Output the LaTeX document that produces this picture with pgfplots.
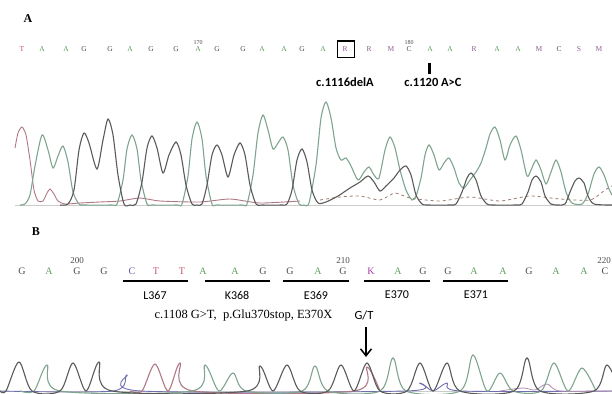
\documentclass[border=0pt]{standalone}
\usepackage{pgfplots}
\pgfplotsset{compat=1.18}
\usepackage{fontspec}
\setmainfont{Liberation Serif}
\newfontfamily\carlito{Carlito}
\usetikzlibrary{arrows.meta}
\definecolor{sqA}{HTML}{5E9E5E}
\definecolor{sqG}{HTML}{4A4A4A}
\definecolor{sqT}{HTML}{C05068}
\definecolor{sqC}{HTML}{5A5AA0}
\definecolor{sqR}{HTML}{8E5E8E}
\definecolor{sqK}{HTML}{A040A0}
\definecolor{trG}{HTML}{7FA58E}
\definecolor{trK}{HTML}{5A5A5A}
\definecolor{trT}{HTML}{B07884}
\definecolor{trB}{HTML}{6E6EB0}
\definecolor{trBr}{HTML}{9C7A6E}
\newcommand{\seqa}[3]{\node[text=#3,font=\fontsize{7.5}{8}\selectfont] at (axis cs:#1,49.5) {#2};}
\newcommand{\seqb}[3]{\node[text=#3,font=\fontsize{10}{11}\selectfont] at (axis cs:#1,271) {#2};}
\begin{document}
\begin{tikzpicture}
\useasboundingbox (0,0) rectangle (612pt,393pt);
\begin{axis}[at={(0,0)},anchor=south west,scale only axis,width=612pt,height=393pt,
  xmin=0,xmax=612,ymin=0,ymax=393,y dir=reverse,hide axis,clip=true]
% ---------- Panel A chromatogram ----------
\addplot[gray!40,line width=0.8pt] coordinates {(15,205) (612,205)};
\addplot[trT,line width=0.9pt,smooth,tension=0.4] coordinates {
(15,148) (18,133) (22,127) (26,135) (30,160) (34,190) (38,201) (43,201) (47,193) (50,189) (54,194) (58,201) (65,204)
(80,203) (100,202) (120,201) (140,198) (160,201) (200,202) (230,199) (260,203) (300,201)};
\addplot[trBr,line width=0.8pt,dashed,smooth,tension=0.4] coordinates {
(320,200) (340,197) (360,196) (380,200) (395,193) (410,198) (440,201) (470,197) (500,201) (530,196) (560,199) (590,200) (605,190) (612,186)};
\addplot[trG,line width=1.1pt,smooth,tension=0.45] coordinates {
(20,205) (25,204) (30,195) (35,166) (42,135) (48,150) (53,168) (58,156) (63,146) (68,162) (73,192) (79,204) (84,205)
(112,205) (117,204) (123,180) (127,149) (132,135) (137,149) (141,180) (147,204) (152,205)
(177,205) (182,204) (188,176) (192,139) (197,122) (202,139) (206,176) (212,204) (217,205)
(242,205) (247,204) (253,175) (258,133) (263,115) (268,130) (273,149) (278,143) (283,137) (288,150) (293,185) (299,204)
(304,205) (309,203) (316,165) (321,118) (326,102) (331,118) (336,148) (341,160) (346,158) (351,166) (358,180)
(364,172) (369,167) (374,175) (379,178) (385,150) (390,137) (395,148) (400,170) (406,190) (412,200) (416,196)
(421,178) (425,155) (429,145) (434,155) (439,170) (444,163) (449,158) (454,168) (459,183) (464,188) (470,180)
(476,172) (481,163) (486,148) (490,134) (495,127) (500,140) (505,160) (510,145) (516,136) (521,150) (527,176)
(531,170) (536,160) (541,170) (546,184) (551,172) (556,160) (561,172) (566,192) (572,203) (582,204) (588,194)
(594,174) (599,167) (604,175) (609,189) (612,195)};
\addplot[trK,line width=1.1pt,smooth,tension=0.45] coordinates {
(60,205) (68,204) (74,190) (79,150) (84,133) (89,143) (97,169) (103,140) (108,119) (113,135) (118,175) (124,204) (130,205)
(136,204) (142,182) (147,148) (152,136) (157,148) (163,173) (169,155) (176,142) (181,155) (186,185) (192,204) (197,205)
(202,204) (207,185) (212,155) (217,145) (222,155) (228,177) (234,155) (240,143) (245,155) (250,185) (256,204) (262,205)
(282,205) (287,204) (292,190) (297,160) (302,149) (307,162) (312,190) (318,203)
(326,202) (338,196) (350,188) (360,182) (368,176) (374,182) (380,191) (386,186) (394,178) (400,170) (406,166)
(411,175) (416,195) (422,204) (428,205)
(450,205) (456,204) (462,192) (467,178) (471,173) (476,180) (481,196) (487,204) (493,205)
(516,205) (522,204) (528,192) (532,180) (536,176) (541,182) (545,196) (551,204) (558,205)
(565,204) (570,192) (575,181) (579,178) (584,183) (588,196) (594,204) (612,205)};
% ---------- Panel B chromatogram ----------
\addplot[gray!40,line width=0.8pt] coordinates {(0,391.5) (612,391.5)};
\addplot[trB,line width=0.9pt,smooth,tension=0.5] coordinates {
(0,391) (113,391) (127,375) (141,391) (405,391) (420,383) (433,391) (447,383) (461,391) (612,391)};
\addplot[sqR!70,line width=0.8pt,smooth,tension=0.5] coordinates {
(500,391) (523,388) (535,390) (547,384) (560,391) (612,391)};
\addplot[trT,line width=1.1pt,smooth,tension=0.5] coordinates {
(130,391) (142,391) (155,364) (168,391) (180,363) (193,391) (354,391) (367,367) (380,391)};
\addplot[trG,line width=1.1pt,smooth,tension=0.5] coordinates {
(20,391) (34,391) (47,365) (60,391) (192,391) (205,365) (219,391) (233,373) (246,391) (302,391) (315,366) (328,391)
(380,391) (393,358) (406,391) (460,391) (473,355) (487,391) (500,373) (513,391) (541,391) (554,363) (568,391)
(582,368) (596,391)};
\addplot[trK,line width=1.1pt,smooth,tension=0.5] coordinates {
(0,391) (6,391) (19,362) (32,391) (60,391) (73,363) (86,391) (99,362) (112,391) (247,391) (260,366) (273,391)
(287,365) (300,391) (328,391) (341,365) (354,391) (367,363) (380,391) (407,391) (420,363) (433,391) (447,363)
(460,391) (514,391) (527,358) (540,391) (594,391) (607,365) (620,391)};
\path (rel axis cs:0,0) rectangle (rel axis cs:1,1);
% ---------- Panel A text ----------
\node[font=\bfseries\fontsize{12}{13}\selectfont] at (axis cs:28,19) {A};
\seqa{22}{T}{sqT}\seqa{42}{A}{sqA}\seqa{66}{A}{sqA}\seqa{84}{G}{sqG}\seqa{110}{G}{sqG}\seqa{130}{A}{sqA}
\seqa{151}{G}{sqG}\seqa{176}{G}{sqG}\seqa{198}{A}{sqA}\seqa{217}{G}{sqG}\seqa{243}{G}{sqG}\seqa{262}{A}{sqA}
\seqa{284}{A}{sqA}\seqa{302}{G}{sqG}\seqa{323}{A}{sqA}\seqa{345}{R}{sqR}\seqa{369}{R}{sqR}\seqa{391}{M}{sqR}
\seqa{409}{C}{sqG}\seqa{430}{A}{sqA}\seqa{450}{A}{sqA}\seqa{474}{R}{sqR}\seqa{497}{A}{sqA}\seqa{518}{A}{sqA}
\seqa{539}{M}{sqR}\seqa{559}{C}{sqG}\seqa{579}{S}{sqR}\seqa{599}{M}{sqR}
\node[text=sqG,font=\fontsize{6}{7}\selectfont] at (axis cs:198,42.5) {170};
\node[text=sqG,font=\fontsize{6}{7}\selectfont] at (axis cs:409,42.5) {180};
\draw[line width=1.4pt] (axis cs:337.5,41) rectangle (axis cs:354.5,57.5);
\draw[line width=2.6pt] (axis cs:429.5,63) -- (axis cs:429.5,74);
\node[font=\carlito\bfseries\fontsize{12.5}{14}\selectfont] at (axis cs:345,82) {c.1116delA};
\node[font=\carlito\bfseries\fontsize{12.5}{14}\selectfont] at (axis cs:433,82) {c.1120 A>C};
% ---------- Panel B text ----------
\node[font=\bfseries\fontsize{12}{13}\selectfont] at (axis cs:36,232) {B};
\seqb{22}{G}{sqG}\seqb{49}{A}{sqA}\seqb{77}{G}{sqG}\seqb{104}{G}{sqG}\seqb{132}{C}{sqC}\seqb{156}{T}{sqT}
\seqb{182}{T}{sqT}\seqb{203}{A}{sqA}\seqb{235}{A}{sqA}\seqb{263}{G}{sqG}\seqb{290}{G}{sqG}\seqb{318}{A}{sqA}
\seqb{343}{G}{sqG}\seqb{371}{K}{sqK}\seqb{398}{A}{sqA}\seqb{423}{G}{sqG}\seqb{448}{G}{sqG}\seqb{474}{A}{sqA}
\seqb{503}{A}{sqA}\seqb{529}{G}{sqG}\seqb{556}{A}{sqA}\seqb{584}{A}{sqA}\seqb{605}{C}{sqG}
\node[text=sqG,font=\fontsize{9}{10}\selectfont] at (axis cs:77,261) {200};
\node[text=sqG,font=\fontsize{9}{10}\selectfont] at (axis cs:343,261) {210};
\node[text=sqG,font=\fontsize{9}{10}\selectfont] at (axis cs:604,261) {220};
\draw[line width=2.2pt] (axis cs:123,281) -- (axis cs:188,281);
\draw[line width=2.2pt] (axis cs:205,281) -- (axis cs:270,281);
\draw[line width=2.2pt] (axis cs:283,281) -- (axis cs:349,281);
\draw[line width=2.2pt] (axis cs:364,281) -- (axis cs:430,281);
\draw[line width=2.2pt] (axis cs:443,281) -- (axis cs:508,281);
\node[font=\carlito\fontsize{12}{13}\selectfont] at (axis cs:155,295) {L367};
\node[font=\carlito\fontsize{12}{13}\selectfont] at (axis cs:237,295) {K368};
\node[font=\carlito\fontsize{12}{13}\selectfont] at (axis cs:316,295) {E369};
\node[font=\carlito\fontsize{12}{13}\selectfont] at (axis cs:397,295) {E370};
\node[font=\carlito\fontsize{12}{13}\selectfont] at (axis cs:476,295) {E371};
\node[font=\fontsize{12.5}{13}\selectfont] at (axis cs:243.5,315.5) {c.1108 G>T,\ \ p.Glu370stop,\ E370X};
\node[font=\carlito\fontsize{12.5}{13}\selectfont] at (axis cs:364,315.5) {G/T};
\draw[line width=1.5pt,-{Straight Barb[length=7pt,width=11pt]}] (axis cs:366,327) -- (axis cs:366,357);
\end{axis}
\end{tikzpicture}
\end{document}
